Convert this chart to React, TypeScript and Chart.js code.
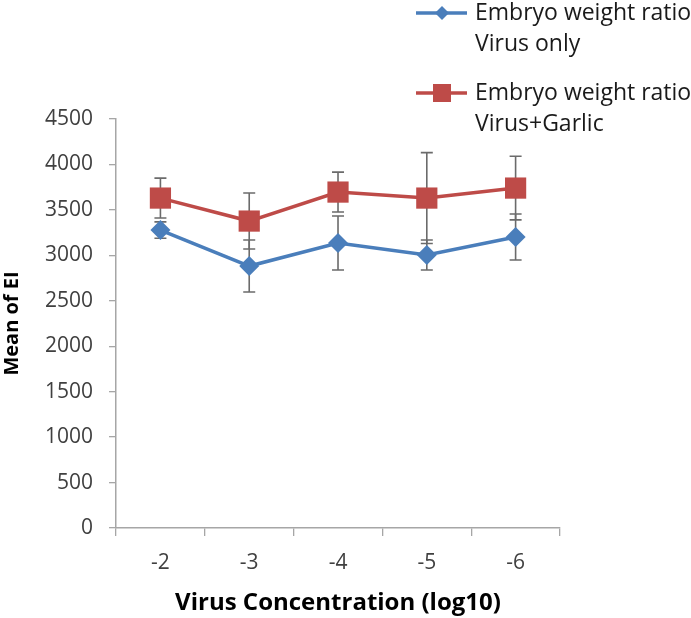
import React, { useEffect, useRef } from "react";
import { Chart, registerables } from "chart.js";

Chart.register(...registerables);

const categories = ["-2", "-3", "-4", "-5", "-6"];
const virusOnly = [3278, 2882, 3135, 3003, 3201];
const virusOnlyErr = [90, 286, 297, 165, 253];
const virusGarlic = [3630, 3377, 3696, 3630, 3740];
const virusGarlicErr = [220, 308, 220, 500, 350];
const seriesLabels = [
  ["Embryo weight ratio", "Virus only"],
  ["Embryo weight ratio", "Virus+Garlic"],
];
const yMin = 0;
const yMax = 4500;
const yStep = 500;

const BLUE = "#4A7EBB";
const RED = "#BE4B48";
const FONT = "'Open Sans', 'Liberation Sans', sans-serif";

const errors = [virusOnlyErr, virusGarlicErr];

const errorBarPlugin = {
  id: "errorBars",
  beforeDatasetsDraw(chart: any) {
    const ctx = chart.ctx;
    const yScale = chart.scales.y;
    ctx.save();
    ctx.strokeStyle = "#6b6b6b";
    ctx.lineWidth = 1.6;
    chart.data.datasets.forEach((ds: any, di: number) => {
      const meta = chart.getDatasetMeta(di);
      meta.data.forEach((pt: any, i: number) => {
        const v = ds.data[i];
        const e = errors[di][i];
        const x = pt.x;
        const yTop = yScale.getPixelForValue(v + e);
        const yBot = yScale.getPixelForValue(v - e);
        ctx.beginPath();
        ctx.moveTo(x, yTop);
        ctx.lineTo(x, yBot);
        ctx.moveTo(x - 6, yTop);
        ctx.lineTo(x + 6, yTop);
        ctx.moveTo(x - 6, yBot);
        ctx.lineTo(x + 6, yBot);
        ctx.stroke();
      });
    });
    ctx.restore();
  },
};

const legendPlugin = {
  id: "customLegend",
  afterDraw(chart: any) {
    const ctx = chart.ctx;
    ctx.save();
    const entries = [
      { color: BLUE, style: "diamond", y: 13, lines: seriesLabels[0] },
      { color: RED, style: "square", y: 93, lines: seriesLabels[1] },
    ];
    entries.forEach((en) => {
      ctx.strokeStyle = en.color;
      ctx.lineWidth = 3.5;
      ctx.beginPath();
      ctx.moveTo(416, en.y);
      ctx.lineTo(467, en.y);
      ctx.stroke();
      ctx.fillStyle = en.color;
      const mx = 442;
      if (en.style === "diamond") {
        ctx.beginPath();
        ctx.moveTo(mx, en.y - 7);
        ctx.lineTo(mx + 7, en.y);
        ctx.lineTo(mx, en.y + 7);
        ctx.lineTo(mx - 7, en.y);
        ctx.closePath();
        ctx.fill();
      } else {
        ctx.fillRect(mx - 9, en.y - 9, 18, 18);
      }
      ctx.fillStyle = "#1a1a1a";
      ctx.font = `23px ${FONT}`;
      ctx.textBaseline = "middle";
      ctx.textAlign = "left";
      en.lines.forEach((t, li) => {
        ctx.fillText(t, 475, en.y + li * 31);
      });
    });
    ctx.restore();
  },
};

export default function App() {
  const ref = useRef<HTMLCanvasElement>(null);
  useEffect(() => {
    if (!ref.current) return;
    const chart = new Chart(ref.current, {
      type: "line",
      data: {
        labels: categories,
        datasets: [
          {
            label: seriesLabels[0].join(" "),
            data: virusOnly,
            borderColor: BLUE,
            backgroundColor: BLUE,
            borderWidth: 3.5,
            pointStyle: "rectRot",
            pointRadius: 10,
            pointBorderWidth: 0,
            pointBackgroundColor: BLUE,
            tension: 0,
          },
          {
            label: seriesLabels[1].join(" "),
            data: virusGarlic,
            borderColor: RED,
            backgroundColor: RED,
            borderWidth: 3.5,
            pointStyle: "rect",
            pointRadius: 15,
            pointBorderWidth: 0,
            pointBackgroundColor: RED,
            tension: 0,
          },
        ],
      },
      options: {
        responsive: false,
        animation: false,
        layout: { padding: { left: 0, top: 119, right: 131, bottom: 0 } },
        plugins: {
          legend: { display: false },
          tooltip: { enabled: false },
        },
        scales: {
          x: {
            type: "category",
            offset: true,
            grid: {
              display: true,
              offset: true,
              drawOnChartArea: false,
              drawTicks: true,
              tickLength: 8,
              color: "#a6a6a6",
              lineWidth: 1.3,
            },
            border: { display: true, color: "#a6a6a6", width: 1.5 },
            ticks: {
              color: "#404040",
              font: { family: FONT, size: 21 },
              padding: 14,
            },
            title: {
              display: true,
              text: "Virus Concentration (log10)",
              color: "#000",
              font: { family: FONT, size: 24, weight: "bold" },
              padding: { top: 0, bottom: 0 },
            },
          },
          y: {
            min: yMin,
            max: yMax,
            grid: {
              display: true,
              drawOnChartArea: false,
              drawTicks: true,
              tickLength: 7,
              color: "#a6a6a6",
              lineWidth: 1.3,
            },
            border: { display: true, color: "#a6a6a6", width: 1.5 },
            ticks: {
              stepSize: yStep,
              color: "#404040",
              font: { family: FONT, size: 21 },
              padding: 16,
              callback: (v: any) => String(v),
            },
            title: {
              display: true,
              text: "Mean of EI",
              color: "#000",
              font: { family: FONT, size: 20, weight: "bold" },
              padding: { top: 0, bottom: 5 },
            },
          },
        },
      },
      plugins: [errorBarPlugin, legendPlugin],
    });
    return () => chart.destroy();
  }, []);
  return (
    <div style={{ position: "absolute", left: 0, top: 0, width: 691, height: 618, background: "#fff" }}>
      <canvas ref={ref} width={691} height={618} />
    </div>
  );
}
